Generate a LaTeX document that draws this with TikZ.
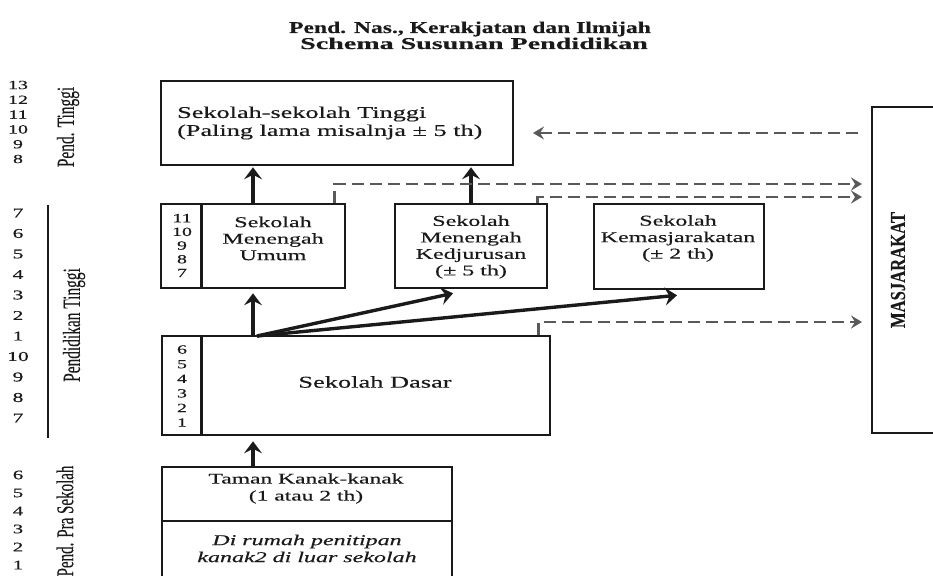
\documentclass[tikz,border=0pt]{standalone}
\usepackage{fontspec}
\setmainfont{Liberation Serif}[FakeStretch=1.6,FakeBold=0.4]
\newfontfamily\plainserif{Liberation Serif}[FakeBold=0.3]
\usetikzlibrary{arrows.meta,calc}
\definecolor{ink}{HTML}{1A1A1A}
\definecolor{dashgray}{HTML}{595959}
\begin{document}
\begin{tikzpicture}[x=1pt,y=-1pt,
  box/.style={draw=ink,line width=2.6pt,inner sep=0pt,rectangle},
  txt/.style={align=center,inner sep=0pt,text=ink},
  divider/.style={draw=ink,line width=2.6pt},
  heavy/.style={draw=ink,line width=3.4pt,-{Stealth[length=12pt,width=18pt,inset=4.5pt]}},
  dasharr/.style={draw=dashgray,line width=2.8pt,dash pattern=on 12pt off 6pt,-{Stealth[length=11pt,width=13pt,inset=4pt]}},
  num/.style={inner sep=0pt,text=ink,align=center,font=\fontsize{12.5}{13}\selectfont},
  side/.style={inner sep=0pt,text=ink,xscale=1.6,rotate=90,font=\plainserif\fontsize{15.4}{16}\selectfont}]
\useasboundingbox (0,0) rectangle (933,575);

% title
\node[txt,anchor=base,xscale=1.43,font=\plainserif\bfseries\fontsize{16.5}{17}\selectfont] (title1) at (470,33)
  {Pend. Nas., Kerakjatan dan Ilmijah};
\node[txt,anchor=base,xscale=1.70,font=\plainserif\bfseries\fontsize{16.5}{17}\selectfont] (title2) at (474,49)
  {Schema Susunan Pendidikan};

% left scale
\foreach \v [count=\i from 0] in {13,12,11,10,9,8}
  \node[num] (na\i) at (18,{85+14.8*\i}) {\v};
\foreach \v [count=\i from 0] in {7,6,5,4,3,2,1,10,9,8,7}
  \node[num,font=\fontsize{13.5}{14}\selectfont] (nb\i) at (18,{213+20.5*\i}) {\v};
\foreach \v [count=\i from 0] in {6,5,4,3,2,1}
  \node[num,font=\fontsize{13}{14}\selectfont] (nc\i) at (18,{475+18*\i}) {\v};
\draw[ink,line width=2.2pt] (48,205) -- (48,438);
\node[side] (lblA) at (68,127) {Pend. Tinggi};
\node[side] (lblB) at (74,325) {Pendidikan Tinggi};
\node[side,font=\plainserif\fontsize{15}{16}\selectfont] (lblC) at (65,521) {Pend. Pra Sekolah};

% boxes
\node[box,minimum width=352pt,minimum height=84pt] (tinggi) at (337,123) {};
\node[txt,anchor=west,align=left,font=\fontsize{16.4}{18}\selectfont] (tinggitxt) at (177,123)
  {Sekolah-sekolah Tinggi\\(Paling lama misalnja ± 5 th)};

\node[box,minimum width=184pt,minimum height=84pt] (smu) at (253,246) {};
\draw[divider] ([xshift=42pt]smu.north west) -- ([xshift=42pt]smu.south west);
\node[num,font=\fontsize{12.5}{13.7}\selectfont] (smunum) at (182,245.5) {11\\10\\9\\8\\7};
\node[txt,font=\fontsize{15}{16.5}\selectfont] (smutxt) at (273,238.5) {Sekolah\\Menengah\\Umum};

\node[box,minimum width=152pt,minimum height=84pt] (smk) at (471,246) {};
\node[txt,font=\fontsize{15}{16.5}\selectfont] (smktxt) at (471,247) {Sekolah\\Menengah\\Kedjurusan\\(± 5 th)};

\node[box,minimum width=170pt,minimum height=85pt] (kemas) at (679,246.5) {};
\node[txt,font=\fontsize{15}{16.5}\selectfont] (kemastxt) at (678,238.5) {Sekolah\\Kemasjarakatan\\(± 2 th)};

\node[box,minimum width=388pt,minimum height=99pt] (sd) at (356,385.5) {};
\draw[divider] ([xshift=41pt]sd.north west) -- ([xshift=41pt]sd.south west);
\node[num,font=\fontsize{12.5}{14.6}\selectfont] (sdnum) at (182,386) {6\\5\\4\\3\\2\\1};
\node[txt,font=\fontsize{16.5}{18}\selectfont] (sdtxt) at (375,382) {Sekolah Dasar};

\node[box,minimum width=290pt,minimum height=113pt] (tk) at (307,523.5) {};
\draw[divider] (tk.west |- 0,521) -- (tk.east |- 0,521);
\node[txt,font=\fontsize{14.7}{17}\selectfont] (tktxt) at (306,488.5) {Taman Kanak-kanak\\(1 atau 2 th)};
\node[txt,font=\itshape\fontsize{15}{17}\selectfont] (tkitxt) at (307,548.5) {Di rumah penitipan\\kanak2 di luar sekolah};

\node[box,minimum width=68pt,minimum height=326pt] (masj) at (906,270) {};
\node[side,xscale=1.25,font=\plainserif\bfseries\fontsize{13.3}{14}\selectfont] (masjtxt) at (898,270) {MASJARAKAT};

% solid arrows
\coordinate (fan) at (257,336);
\draw[heavy] (smu.north) -- ([yshift=-1pt]tinggi.south -| smu.north);
\draw[heavy] (smk.north) -- ([yshift=-1pt]tinggi.south -| smk.north);
\draw[heavy] (sd.north -| smu.south) -- ([yshift=-4pt]smu.south);
\draw[heavy] (fan) -- ([xshift=-18pt,yshift=-4pt]smk.south);
\draw[heavy] (fan) -- ([xshift=-2pt,yshift=-5pt]kemas.south);
\draw[heavy] (tk.north -| smu.south) -- ([yshift=-5pt]sd.south -| smu.south);

% dashed arrows
\coordinate (m1) at (858,133);
\coordinate (t1) at (533,133);
\coordinate (e1) at (862,184);
\coordinate (e2) at (862,197);
\coordinate (e3) at (862,322);
\draw[dasharr] (m1) -- (t1);
\draw[dasharr] ([xshift=-12pt]smu.north east) |- (e1);
\draw[dasharr] ([xshift=-11pt]smk.north east) |- (e2);
\draw[dasharr] ([xshift=-13pt]sd.north east) |- (e3);
\end{tikzpicture}
\end{document}
